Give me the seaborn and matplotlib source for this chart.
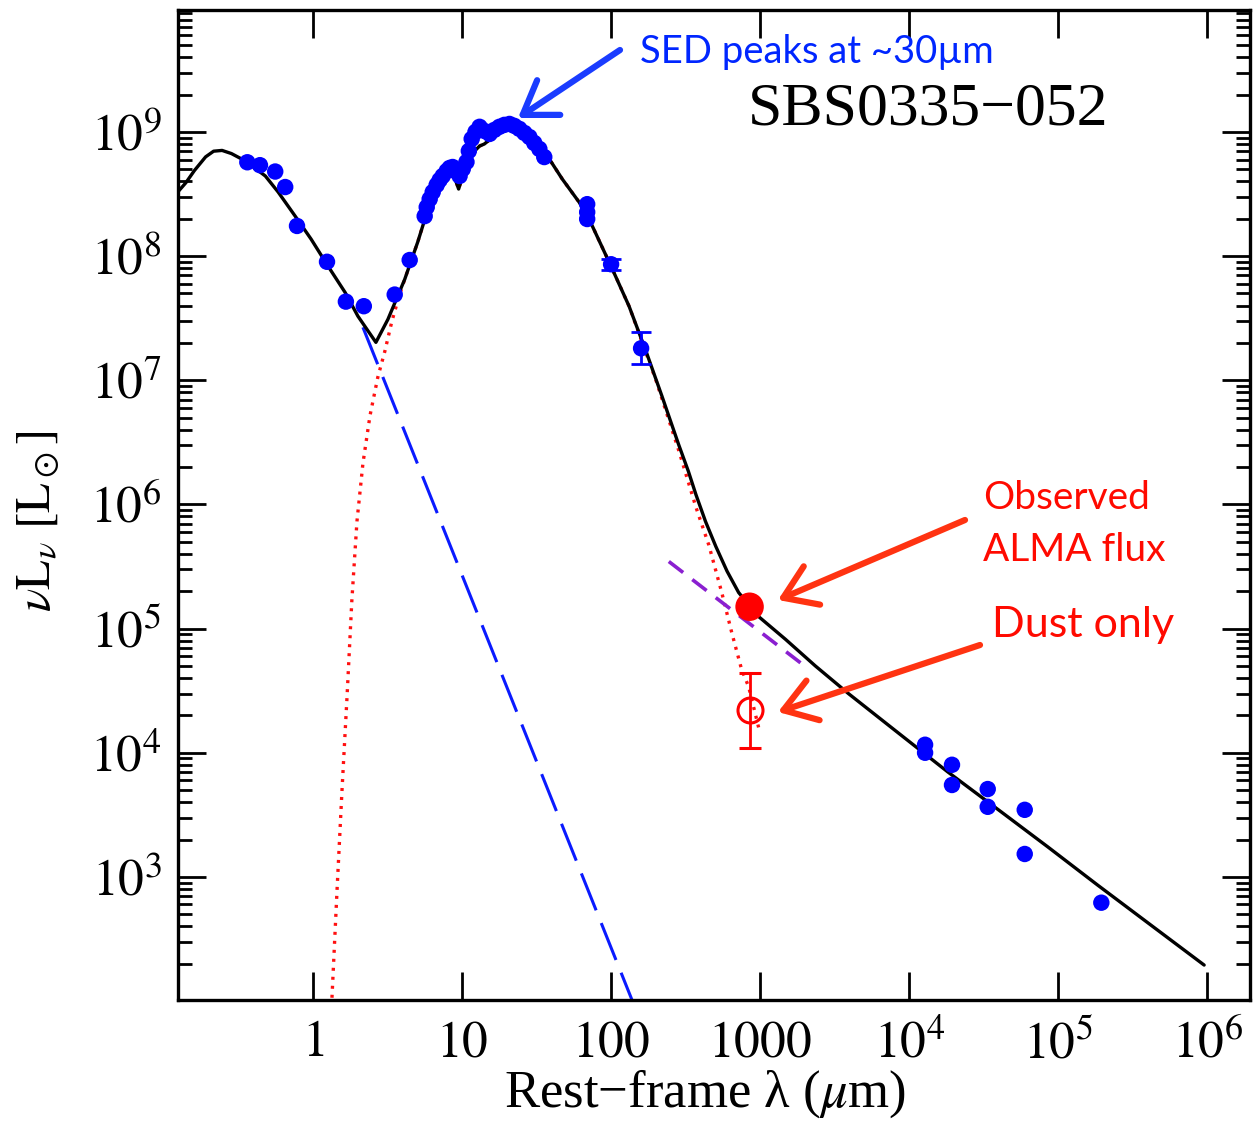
import numpy as np
import pandas as pd
import matplotlib
matplotlib.use("Agg")
import matplotlib.pyplot as plt
import seaborn as sns

# ---------------- data ----------------
# observed photometry (blue points)
obs_wave = [0.362, 0.44, 0.557, 0.65, 0.78, 1.24, 1.66, 2.19, 3.53, 4.45, 5.61,
            5.79, 6.06, 6.35, 6.75, 7.07, 7.41, 7.88, 8.25, 8.64, 9.05, 9.62, 10.1,
            10.7, 11.1, 11.6, 12.3, 13.1, 14.1, 15.3, 16.5, 17.8, 19.2, 20.8, 22.4,
            24.2, 26.2, 28.3, 30.5, 33.0, 35.6, 69.1, 69.1, 69.1, 100.0, 159.0,
            1.28e4, 1.28e4, 1.94e4, 1.94e4, 3.37e4, 3.37e4, 5.97e4, 5.97e4, 1.95e5]
obs_lum = [5.7e8, 5.4e8, 4.8e8, 3.6e8, 1.75e8, 9.0e7, 4.3e7, 3.95e7, 4.9e7, 9.3e7, 2.1e8,
           2.48e8, 2.88e8, 3.28e8, 3.74e8, 4.10e8, 4.42e8, 4.84e8, 5.13e8, 5.22e8, 4.84e8, 4.42e8, 5.03e8,
           5.73e8, 7.03e8, 8.79e8, 1.0e9, 1.10e9, 1.02e9, 9.64e8, 1.04e9, 1.10e9, 1.14e9, 1.16e9, 1.12e9,
           1.06e9, 9.82e8, 9.11e8, 8.15e8, 7.30e8, 6.28e8, 2.62e8, 2.26e8, 1.99e8, 8.6e7, 1.81e7,
           1.16e4, 1.0e4, 8.0e3, 5.5e3, 5.1e3, 3.67e3, 3.47e3, 1.53e3, 6.2e2]
# points with error bars (blue)
err_wave = [100.0, 159.0]
err_lum = [8.6e7, 1.81e7]
err_low = [7.8e7, 1.35e7]
err_high = [9.5e7, 2.44e7]

# total model (black)
model_wave = [0.124, 0.14, 0.16, 0.19, 0.215, 0.245, 0.283, 0.351, 0.478, 0.583, 0.758, 0.97, 1.26,
              1.64, 2.0, 2.64, 3.18, 4.12, 5.04, 5.6, 6.35, 7.1, 7.88, 8.25, 8.9, 9.48,
              10.4, 11.6, 13.1, 14.1, 16.5, 19.2, 24.2, 30.5, 35.6, 38.5, 47, 61, 71,
              102, 132, 171, 219, 285, 330, 371, 430, 504, 600, 718, 977, 1480, 2350, 3910, 7590,
              1.82e4, 3.94e4, 8.5e4, 1.84e5, 3.97e5, 9.55e5]
model_lum = [3.3e8, 3.9e8, 4.9e8, 6.3e8, 7.0e8, 7.1e8, 6.7e8, 5.84e8, 4.42e8, 3.28e8, 2.1e8, 1.37e8, 8.3e7,
             5.1e7, 3.28e7, 2.02e7, 3.1e7, 6.5e7, 1.3e8, 1.95e8, 2.88e8, 3.8e8, 4.75e8, 5.73e8, 4.3e8, 3.47e8,
             5.0e8, 6.65e8, 7.7e8, 8.0e8, 9.3e8, 1.04e9, 1.02e9, 8.45e8, 7.03e8, 6.05e8, 4.18e8, 2.72e8, 2.0e8,
             7.85e7, 3.95e7, 1.73e7, 7.5e6, 3.0e6, 1.85e6, 1.2e6, 7.3e5, 4.6e5, 2.9e5, 1.95e5, 1.25e5, 8.2e4,
             5.0e4, 3.0e4, 1.6e4,
             7.0e3, 3.5e3, 1.75e3, 8.6e2, 4.3e2, 1.95e2]

# dust component (red dotted)
dust_wave = [1.33, 1.45, 1.56, 1.69, 1.82, 1.97, 2.16, 2.41, 2.72, 3.03, 3.38, 3.76, 4.12,
             5.04, 5.6, 6.35, 7.1, 7.88, 8.25, 8.9, 9.48, 10.4, 11.6, 13.1, 14.1, 16.5,
             19.2, 24.2, 30.5, 35.6, 38.5, 47, 61, 71, 102, 132, 171, 200, 285, 371,
             453, 553, 645, 752, 838, 977]
dust_lum = [90, 8.1e2, 4.75e3, 2.83e4, 1.68e5, 7.3e5, 2.14e6, 5.2e6, 1.06e7, 1.71e7, 2.99e7, 4.67e7, 6.5e7,
            1.3e8, 1.95e8, 2.88e8, 3.8e8, 4.75e8, 5.73e8, 4.3e8, 3.47e8, 5.0e8, 6.65e8, 7.7e8, 8.0e8, 9.3e8,
            1.04e9, 1.02e9, 8.45e8, 7.03e8, 6.05e8, 4.18e8, 2.72e8, 2.0e8, 7.85e7, 3.95e7, 1.68e7, 1.0e7, 2.7e6, 9.5e5,
            4.7e5, 1.95e5, 9.3e4, 4.67e4, 3.4e4, 1.6e4]

# stellar Rayleigh-Jeans tail (blue dashed)
star_wave = [2.16, 140.0]
star_lum = [2.67e7, 98.0]

# radio continuum (purple dashed)
radio_wave = [244.0, 2015.0]
radio_lum = [3.47e5, 4.94e4]

# ALMA points
alma_wave = [850.0]
alma_obs = [1.5e5]
alma_dust = [2.2e4]
alma_dust_low = [1.1e4]
alma_dust_high = [4.4e4]

x_ticks = [1, 10, 100, 1000, 1e4, 1e5, 1e6]
x_tick_labels = ["$1$", "$10$", "$100$", "$1000$", "$10^4$", "$10^5$", "$10^6$"]
y_ticks = [1e3, 1e4, 1e5, 1e6, 1e7, 1e8, 1e9]
y_tick_labels = ["$10^3$", "$10^4$", "$10^5$", "$10^6$", "$10^7$", "$10^8$", "$10^9$"]

# ---------------- style ----------------
sns.set_style("ticks")
plt.rcParams["font.family"] = ["Liberation Serif", "DejaVu Serif"]
plt.rcParams["mathtext.fontset"] = "stix"
plt.rcParams["text.color"] = "black"
plt.rcParams["axes.labelcolor"] = "black"
plt.rcParams["xtick.color"] = "black"
plt.rcParams["ytick.color"] = "black"

W, H = 1260, 1123
fig = plt.figure(figsize=(W / 100, H / 100), dpi=100)
ax = fig.add_axes([178 / W, 1 - 1000 / H, (1250 - 178) / W, (1000 - 10) / H])
ax.set_xscale("log")
ax.set_yscale("log")

# components
sns.lineplot(x=star_wave, y=star_lum, ax=ax, color="#0a1aff", lw=2.2,
             sort=False, estimator=None).lines[-1].set_dashes([13, 4.5])
sns.lineplot(x=dust_wave, y=dust_lum, ax=ax, color="#ff1010", lw=2.4,
             sort=False, estimator=None).lines[-1].set_dashes([0.9, 1.8])
sns.lineplot(x=radio_wave, y=radio_lum, ax=ax, color="#8a1fd0", lw=2.6,
             sort=False, estimator=None).lines[-1].set_dashes([5, 3.2])
sns.lineplot(x=model_wave, y=model_lum, ax=ax, color="black", lw=2.4,
             sort=False, estimator=None)

# observations
ax.errorbar(err_wave, err_lum,
            yerr=[np.array(err_lum) - np.array(err_low), np.array(err_high) - np.array(err_lum)],
            fmt="none", ecolor="#0000ff", elinewidth=2, capsize=7, capthick=2, zorder=4)
sns.scatterplot(x=obs_wave, y=obs_lum, ax=ax, color="#0000ff", s=140,
                edgecolor="none", marker="o", zorder=5)

# ALMA
ax.errorbar(alma_wave, alma_dust,
            yerr=[np.array(alma_dust) - np.array(alma_dust_low),
                  np.array(alma_dust_high) - np.array(alma_dust)],
            fmt="o", mfc="none", mec="#ff0000", ms=18, mew=2.2,
            ecolor="#ff0000", elinewidth=2, capsize=8, capthick=2, zorder=6)
sns.scatterplot(x=alma_wave, y=alma_obs, ax=ax, color="#ff0000", s=420,
                edgecolor="none", zorder=7)

ax.set_xlim(0.124, 1.94e6)
ax.set_ylim(1.02e2, 9.6e9)

ax.set_xticks(x_ticks)
ax.set_xticklabels(x_tick_labels)
ax.set_yticks(y_ticks)
ax.set_yticklabels(y_tick_labels)
ax.tick_params(which="both", direction="in", top=True, right=True, width=2, colors="black")
ax.tick_params(which="major", length=20, labelsize=37, pad=12)
ax.tick_params(which="minor", length=10)
ax.tick_params(axis="x", which="major", pad=15)
for sp in ax.spines.values():
    sp.set_linewidth(2.4)
    sp.set_color("black")

ax.set_xlabel("Rest\u2212frame \u03bb ($\\mu$m)", fontsize=38)
ax.xaxis.set_label_coords((705 - 178) / 1072, -0.068)
ax.set_ylabel("$\\nu\\mathrm{L}_\\nu\\ [\\mathrm{L}_\\odot]$", fontsize=35)
ax.yaxis.set_label_coords(-0.108, (1000 - 521) / 990)

def fp(x, y):
    return (x / W, 1 - y / H)

fig.text(*fp(748, 110), "SBS0335\u2212052", fontsize=44.5, va="center", ha="left",
         family=["Liberation Serif"])

blue_c = "#0026ff"
red_c = "#ff0a00"
fig.text(*fp(640, 52), "SED peaks at ~30\u00b5m", fontsize=27.5, color=blue_c,
         va="center", ha="left", family=["Lato", "DejaVu Sans"])
fig.text(*fp(983, 498), "Observed", fontsize=28, color=red_c, va="center", ha="left",
         family=["Lato", "DejaVu Sans"])
fig.text(*fp(983, 550), "ALMA flux", fontsize=28, color=red_c, va="center", ha="left",
         family=["Lato", "DejaVu Sans"])
fig.text(*fp(992, 625), "Dust only", fontsize=31, color=red_c, va="center", ha="left",
         family=["Lato", "DejaVu Sans"])

arrow_kw = dict(arrowstyle="->,head_length=0.75,head_width=0.5", lw=4.5,
                mutation_scale=30, shrinkA=0, shrinkB=0)
ax.annotate("", xy=fp(518, 118), xytext=fp(620, 50), xycoords="figure fraction",
            textcoords="figure fraction", arrowprops=dict(color="#1a3cff", **arrow_kw))
ax.annotate("", xy=fp(778, 600), xytext=fp(965, 520), xycoords="figure fraction",
            textcoords="figure fraction", arrowprops=dict(color="#ff3311", **arrow_kw))
ax.annotate("", xy=fp(778, 712), xytext=fp(980, 645), xycoords="figure fraction",
            textcoords="figure fraction", arrowprops=dict(color="#ff3311", **arrow_kw))

fig.savefig("out.png", dpi=100, facecolor="white")
